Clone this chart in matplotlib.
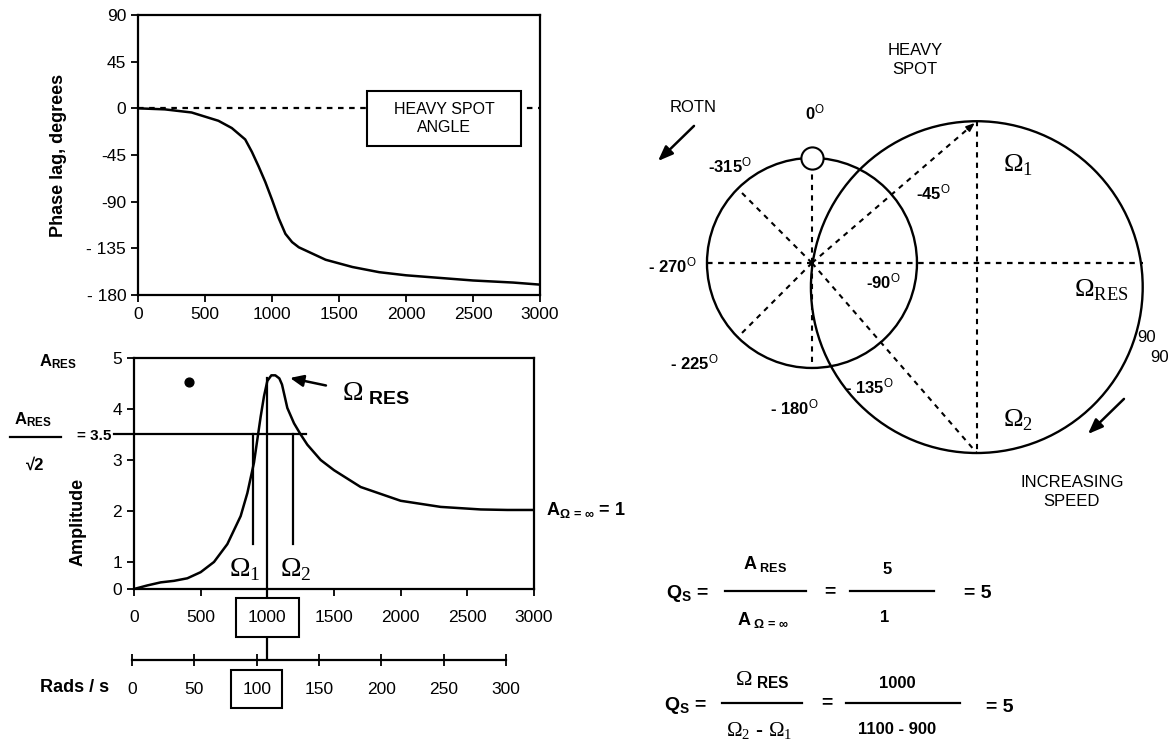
import numpy as np
import matplotlib
matplotlib.use("Agg")
import matplotlib.pyplot as plt
from matplotlib.patches import Circle, Rectangle
from matplotlib.lines import Line2D

plt.rcParams['font.family'] = ['Liberation Sans', 'DejaVu Sans']
plt.rcParams['mathtext.fontset'] = 'custom'
plt.rcParams['mathtext.rm'] = 'Liberation Sans'
plt.rcParams['mathtext.bf'] = 'Liberation Sans:bold'
plt.rcParams['mathtext.sf'] = 'Liberation Serif'
plt.rcParams['mathtext.it'] = 'Liberation Sans:italic'

# phase lag vs speed
speed_phase = [0, 200, 400, 600, 700, 800, 850, 900, 950, 1000, 1050, 1100, 1150, 1200,
               1400, 1600, 1800, 2000, 2200, 2500, 2800, 3000]
phase_lag = [0, -1, -4, -12, -19, -30, -42, -56, -71, -88, -106, -121, -129, -134,
             -146, -153, -158, -161, -163, -166, -168, -170]
phase_ticks = [90, 45, 0, -45, -90, -135, -180]
phase_tick_labels = ["90", "45", "0", "-45", "-90", "- 135", "- 180"]

# amplitude vs speed (chart's own axis: "0" sits at the squeezed bottom, 0.47)
speed_amp = [0, 100, 200, 300, 400, 500, 600, 700, 800, 850, 900, 925, 950, 975, 1000,
             1030, 1060, 1090, 1110, 1130, 1150, 1200, 1250, 1300, 1400, 1500, 1700,
             2000, 2300, 2600, 2800, 3000]
amplitude = [0.47, 0.54, 0.6, 0.63, 0.68, 0.8, 1.0, 1.35, 1.9, 2.35, 2.95, 3.4, 3.85,
             4.25, 4.55, 4.66, 4.66, 4.6, 4.48, 4.25, 4.02, 3.72, 3.5, 3.3, 3.0, 2.8,
             2.47, 2.2, 2.08, 2.03, 2.02, 2.02]
amp_floor = 0.47
amp_ticks = [amp_floor, 1, 2, 3, 4, 5]
amp_tick_labels = ["0", "1", "2", "3", "4", "5"]
speed_ticks = [0, 500, 1000, 1500, 2000, 2500, 3000]
rad_ticks = [0, 50, 100, 150, 200, 250, 300]
omega_res = 1000
omega_1 = 890
omega_2 = 1190
half_power = 3.5
band_bottom = 1.35
dot_x, dot_y = [414], [4.53]

# polar diagram (units of the small circle radius)
spoke_angles = [0, -180, -225, -315]
small_r = 1.0
big_cx, big_cy = 1.57, -0.23
big_r = 1.58
deg_labels = ["0", "-315", "-45", "- 270", "-90", "- 225", "- 135", "- 180"]
deg_pos = [(0.03, 1.43), (-0.78, 0.93), (1.16, 0.67), (-1.33, -0.02),
           (0.68, -0.18), (-1.12, -0.95), (0.55, -1.18), (-0.17, -1.38)]

W, H = 1170, 742


def fx(x):
    return x / W


def fy(y):
    return 1 - y / H


def pu(px, py):
    return (px - 812) / 105, (263 - py) / 105


fig = plt.figure(figsize=(W / 100, H / 100), dpi=100)

# ---- top: phase lag
ax1 = fig.add_axes([fx(138), fy(295), (540 - 138) / W, (295 - 15) / H])
ax1.plot(speed_phase, phase_lag, color='black', lw=1.8)
ax1.plot([0, 3000], [0, 0], color='black', lw=1.6, ls=(0, (2.5, 2.5)))
ax1.set_xlim(0, 3000)
ax1.set_ylim(-180, 90)
ax1.set_yticks(phase_ticks, phase_tick_labels)
ax1.set_xticks(speed_ticks)
ax1.tick_params(direction='out', length=5, width=1.3, labelsize=12.5)
for s in ax1.spines.values():
    s.set_linewidth(1.6)
ax1.set_ylabel("Phase lag, degrees", fontsize=13, fontweight='bold', labelpad=14)
ax1.add_patch(Rectangle((1710, -36), 1150, 53, fc='white', ec='black', lw=1.5, zorder=3))
ax1.text(2285, -9.5, "HEAVY SPOT\nANGLE", ha='center', va='center', fontsize=11.5,
         linespacing=1.25, zorder=4)

# ---- bottom: amplitude
ax2 = fig.add_axes([fx(134), fy(589), (534 - 134) / W, (589 - 358) / H])
ax2.plot(speed_amp, amplitude, color='black', lw=1.8)
ax2.set_xlim(0, 3000)
ax2.set_ylim(amp_floor, 5)
ax2.set_yticks(amp_ticks, amp_tick_labels)
ax2.set_xticks(speed_ticks, [str(t) for t in speed_ticks])
ax2.get_xticklabels()[2].set_bbox(dict(boxstyle='square,pad=0.7', fc='white', ec='black', lw=1.5))
ax2.tick_params(direction='out', length=5, width=1.3, labelsize=12.5)
ax2.tick_params(axis='x', pad=10)
for s in ax2.spines.values():
    s.set_linewidth(1.6)
fig.text(fx(78), fy(522), "Amplitude", fontsize=13, fontweight='bold', rotation=90,
         ha='center', va='center')

ax2.plot([-150, 1290], [half_power, half_power], color='black', lw=1.6, clip_on=False)
ax2.plot([omega_res, omega_res], [-0.9, max(amplitude) - 0.05], color='black', lw=1.6,
         clip_on=False, zorder=1)
ax2.plot([omega_1, omega_1], [band_bottom, half_power], color='black', lw=1.6)
ax2.plot([omega_2, omega_2], [band_bottom, half_power], color='black', lw=1.6)
ax2.scatter(dot_x, dot_y, s=40, color='black')
ax2.annotate("", xy=(1150, 4.62), xytext=(1460, 4.45),
             arrowprops=dict(arrowstyle='-|>,head_length=0.8,head_width=0.35',
                             color='black', lw=1.8))
ax2.text(1560, 4.3, r"$\mathsf{\Omega}_{\ \mathbf{RES}}$", fontsize=20, va='center')
ax2.text(830, 0.85, r"$\mathsf{\Omega}_{\mathsf{1}}$", fontsize=20, ha='center', va='center')
ax2.text(1215, 0.85, r"$\mathsf{\Omega}_{\mathsf{2}}$", fontsize=20, ha='center', va='center')
ax2.text(3090, 2.02, r"A$_{\mathbf{\Omega}\,\mathbf{=}\,\mathbf{\infty}}$ = 1", fontsize=13,
         fontweight='bold', va='center', clip_on=False)

# rads/s axis
ax3 = fig.add_axes([fx(132), fy(660), (506 - 132) / W, 0.001])
ax3.set_xlim(0, 300)
ax3.set_yticks([])
for k in ['top', 'left', 'right']:
    ax3.spines[k].set_visible(False)
ax3.spines['bottom'].set_linewidth(1.6)
ax3.set_xticks(rad_ticks, [str(t) for t in rad_ticks])
ax3.get_xticklabels()[2].set_bbox(dict(boxstyle='square,pad=0.65', fc='white', ec='black', lw=1.5))
ax3.tick_params(direction='inout', length=9, width=1.3, labelsize=12.5, pad=11)
ax3.patch.set_visible(False)

# left annotations
fig.text(fx(58), fy(362), r"A$_{\mathbf{RES}}$", fontsize=12, fontweight='bold',
         ha='center', va='center')
fig.text(fx(33), fy(420), r"A$_{\mathbf{RES}}$", fontsize=12, fontweight='bold',
         ha='center', va='center')
fig.add_artist(Line2D([fx(10), fx(61)], [fy(437), fy(437)], color='black', lw=1.6))
fig.text(fx(35), fy(465), "\u221a2", fontsize=12, fontweight='bold', ha='center', va='center')
fig.text(fx(94), fy(436), "= 3.5", fontsize=11, fontweight='bold', ha='center', va='center')
fig.text(fx(75), fy(688), "Rads / s", fontsize=13, fontweight='bold', ha='center', va='center')

# ---- polar diagram
ax4 = fig.add_axes([fx(640), fy(520), 530 / W, 500 / H])
ax4.set_xlim(-1.638, 3.41)
ax4.set_ylim(-2.448, 2.314)
ax4.axis('off')
ax4.add_patch(Circle((0, 0), small_r, fill=False, ec='black', lw=1.7))
ax4.add_patch(Circle((big_cx, big_cy), big_r, fill=False, ec='black', lw=1.7))
dash = (0, (2.5, 2.5))
for a in spoke_angles:
    t = np.radians(-a)
    ax4.plot([0, small_r * np.sin(t)], [0, small_r * np.cos(t)], color='black', lw=1.5, ls=dash)
ax4.plot([-small_r, big_cx + big_r], [0, 0], color='black', lw=1.6, ls=dash)
top_y = big_cy + big_r
bot_y = big_cy - big_r
ax4.plot([big_cx, big_cx], [top_y, bot_y], color='black', lw=1.5, ls=dash)
ax4.plot([0, big_cx], [0, bot_y], color='black', lw=1.5, ls=dash)
ax4.plot([0, big_cx * 0.97], [0, top_y * 0.97], color='black', lw=1.5, ls=dash)
ax4.annotate("", xy=(big_cx, top_y), xytext=(big_cx * 0.93, top_y * 0.93),
             arrowprops=dict(arrowstyle='-|>,head_length=0.5,head_width=0.2', color='black', lw=1.2))
ax4.plot([0], [small_r], marker='o', ms=16, mfc='white', mec='black', mew=1.5)

for lab, (x, y) in zip(deg_labels, deg_pos):
    ax4.text(x, y, lab + r"$^{\mathrm{O}}$", fontsize=12, fontweight='bold', ha='center', va='center')

ax4.text(*pu(915, 60), "HEAVY\nSPOT", fontsize=12, ha='center', va='center', linespacing=1.3)
ax4.text(*pu(693, 108), "ROTN", fontsize=12, ha='center', va='center')
ax4.annotate("", xy=pu(656, 163), xytext=pu(696, 124),
             arrowprops=dict(arrowstyle='-|>,head_length=0.9,head_width=0.35', color='black', lw=1.8))
ax4.annotate("", xy=pu(1086, 436), xytext=pu(1126, 397),
             arrowprops=dict(arrowstyle='-|>,head_length=0.9,head_width=0.35', color='black', lw=1.8))
ax4.text(*pu(1072, 492), "INCREASING\nSPEED", fontsize=12, ha='center', va='center', linespacing=1.3)
ax4.text(*pu(1003, 165), r"$\mathsf{\Omega}_{\mathsf{1}}$", fontsize=19, ha='left', va='center')
ax4.text(*pu(1003, 420), r"$\mathsf{\Omega}_{\mathsf{2}}$", fontsize=19, ha='left', va='center')
ax4.text(*pu(1074, 290), r"$\mathsf{\Omega}_{\mathsf{RES}}$", fontsize=19, ha='left', va='center')
ax4.text(*pu(1147, 338), "90", fontsize=12, ha='center', va='center')
ax4.text(*pu(1160, 358), "90", fontsize=12, ha='center', va='center')

# ---- Q factor formulas
fs = 14
fig.text(fx(687), fy(593), r"Q$_{\mathbf{S}}$ =", fontsize=fs, fontweight='bold', ha='center', va='center')
fig.add_artist(Line2D([fx(725), fx(806)], [fy(591), fy(591)], color='black', lw=1.6))
fig.text(fx(765), fy(564), r"A$_{\ \mathbf{RES}}$", fontsize=13, fontweight='bold', ha='center', va='center')
fig.text(fx(763), fy(620), r"A$_{\ \mathbf{\Omega}\,\mathbf{=}\,\mathbf{\infty}}$", fontsize=13,
         fontweight='bold', ha='center', va='center')
fig.text(fx(830), fy(592), "=", fontsize=fs, fontweight='bold', ha='center', va='center')
fig.add_artist(Line2D([fx(850), fx(934)], [fy(591), fy(591)], color='black', lw=1.6))
fig.text(fx(887), fy(569), "5", fontsize=12, fontweight='bold', ha='center', va='center')
fig.text(fx(885), fy(618), "1", fontsize=12, fontweight='bold', ha='center', va='center')
fig.text(fx(978), fy(593), "= 5", fontsize=fs, fontweight='bold', ha='center', va='center')

fig.text(fx(685), fy(705), r"Q$_{\mathbf{S}}$ =", fontsize=fs, fontweight='bold', ha='center', va='center')
fig.add_artist(Line2D([fx(722), fx(802)], [fy(703), fy(703)], color='black', lw=1.6))
fig.text(fx(762), fy(680), r"$\mathsf{\Omega}_{\ \mathbf{RES}}$", fontsize=16, ha='center', va='center')
fig.text(fx(759), fy(731), r"$\mathsf{\Omega}_{\mathsf{2}}$ - $\mathsf{\Omega}_{\mathsf{1}}$", fontsize=15,
         fontweight='bold', ha='center', va='center')
fig.text(fx(827), fy(703), "=", fontsize=fs, fontweight='bold', ha='center', va='center')
fig.add_artist(Line2D([fx(846), fx(960)], [fy(703), fy(703)], color='black', lw=1.6))
fig.text(fx(897), fy(683), "1000", fontsize=12, fontweight='bold', ha='center', va='center')
fig.text(fx(897), fy(730), "1100 - 900", fontsize=12, fontweight='bold', ha='center', va='center')
fig.text(fx(1000), fy(707), "= 5", fontsize=fs, fontweight='bold', ha='center', va='center')

fig.savefig("out.png", dpi=100)
